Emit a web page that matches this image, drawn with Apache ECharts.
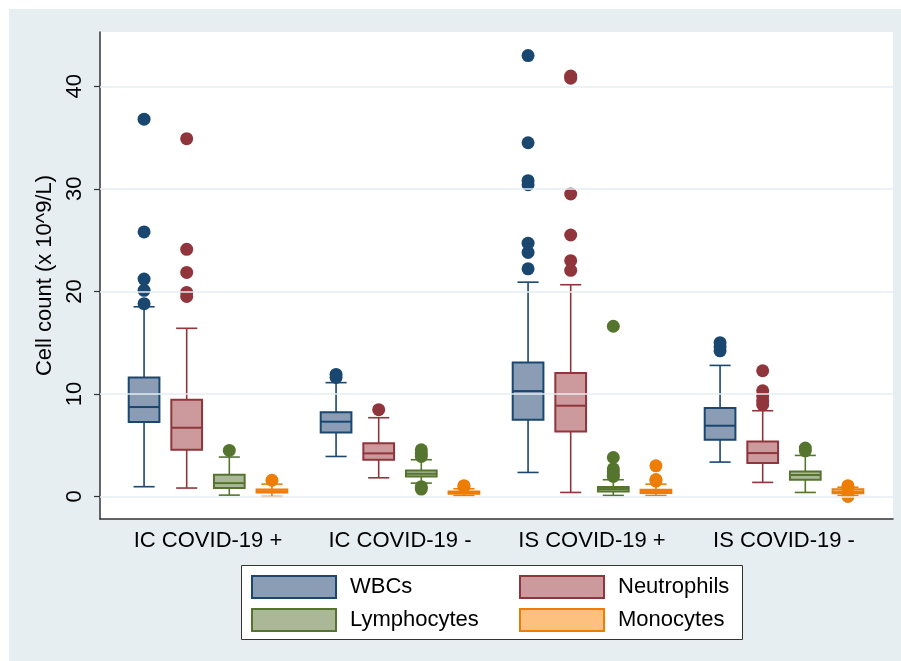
<!DOCTYPE html>
<html>
<head>
<meta charset="utf-8">
<script src="https://cdn.jsdelivr.net/npm/echarts@6/dist/echarts.min.js"></script>
<style>
  html, body { margin: 0; padding: 0; background: #fff; }
  #chart { width: 901px; height: 661px; }
</style>
</head>
<body>
<div id="chart"></div>
<script>
// groups on the x axis
const groups = ['IC COVID-19 +', 'IC COVID-19 -', 'IS COVID-19 +', 'IS COVID-19 -'];
const yTicks = [0, 10, 20, 30, 40];

// box stats per group: [lower whisker, q1, median, q3, upper whisker]
const wbcStats = [[0.95, 7.26, 8.72, 11.6, 18.5], [3.9, 6.24, 7.29, 8.2, 11.1], [2.34, 7.48, 10.28, 13.07, 20.9], [3.35, 5.53, 6.9, 8.62, 12.78]];
const neuStats = [[0.82, 4.56, 6.7, 9.43, 16.4], [1.82, 3.58, 4.2, 5.2, 7.68], [0.39, 6.34, 8.85, 12.04, 20.65], [1.37, 3.26, 4.23, 5.37, 8.36]];
const lymStats = [[0.13, 0.82, 1.3, 2.12, 3.84], [1.3, 1.95, 2.21, 2.54, 3.58], [0.1, 0.49, 0.72, 0.92, 1.63], [0.39, 1.63, 2.09, 2.44, 4.0]];
const monStats = [[0.0, 0.39, 0.5, 0.68, 1.2], [0.08, 0.26, 0.36, 0.49, 0.75], [0.1, 0.33, 0.52, 0.65, 1.2], [0.1, 0.3, 0.45, 0.7, 0.9]];

// outside values per group
const wbcOut = [[36.8, 25.8, 21.2, 20.1, 18.8], [11.9, 11.6], [43.0, 34.5, 30.8, 30.4, 24.7, 23.8, 22.2], [15.0, 14.6, 14.2]];
const neuOut = [[34.9, 24.1, 21.85, 19.9, 19.5], [8.46], [41.0, 40.8, 29.5, 25.5, 23.0, 22.05], [12.26, 10.3, 9.8, 9.3, 8.95]];
const lymOut = [[4.49], [4.55, 4.2, 3.9, 0.95, 0.72], [16.6, 3.8, 2.7, 2.4, 2.1, 1.95], [4.72, 4.45]];
const monOut = [[1.58], [1.05, 0.95], [2.99, 1.65, 1.5], [1.05, 0.85, 0.0]];

const cells = [
  { name: 'WBCs', stats: wbcStats, out: wbcOut, fill: '#8a9db4', stroke: '#1a476f' },
  { name: 'Neutrophils', stats: neuStats, out: neuOut, fill: '#cc9a9d', stroke: '#90353b' },
  { name: 'Lymphocytes', stats: lymStats, out: lymOut, fill: '#aab897', stroke: '#55752f' },
  { name: 'Monocytes', stats: monStats, out: monOut, fill: '#fec07f', stroke: '#ed7d05' }
];
const offsets = [-0.333, -0.111, 0.111, 0.333];
const FONT = "'Liberation Sans', Arial, sans-serif";

function boxRenderer(cell) {
  return function (params, api) {
    const x = api.value(0);
    const lo = api.coord([x, api.value(1)]);
    const q1 = api.coord([x, api.value(2)]);
    const md = api.coord([x, api.value(3)]);
    const q3 = api.coord([x, api.value(4)]);
    const hi = api.coord([x, api.value(5)]);
    const unit = api.size([1, 0])[0];
    const bw = unit * 0.16, cw = unit * 0.11;
    const cx = lo[0];
    const line = (x1, y1, x2, y2, w) => ({
      type: 'line', shape: { x1, y1, x2, y2 },
      style: { stroke: cell.stroke, lineWidth: w }
    });
    return {
      type: 'group',
      children: [
        line(cx, hi[1], cx, q3[1], 1.6),
        line(cx, q1[1], cx, lo[1], 1.6),
        line(cx - cw / 2, hi[1], cx + cw / 2, hi[1], 1.6),
        line(cx - cw / 2, lo[1], cx + cw / 2, lo[1], 1.6),
        {
          type: 'rect',
          shape: { x: cx - bw / 2, y: q3[1], width: bw, height: q1[1] - q3[1] },
          style: { fill: cell.fill, stroke: cell.stroke, lineWidth: 2 }
        },
        line(cx - bw / 2, md[1], cx + bw / 2, md[1], 2)
      ]
    };
  };
}

const series = [{
  type: 'scatter', data: [], z: 1, silent: true,
  markLine: {
    silent: true, symbol: 'none', label: { show: false },
    lineStyle: { color: '#e4ecf0', width: 1.5, type: 'solid' },
    data: yTicks.map(v => ({ yAxis: v }))
  }
}];
cells.forEach((cell, i) => {
  series.push({
    name: cell.name, type: 'custom', z: 3,
    renderItem: boxRenderer(cell),
    encode: { x: 0, y: [1, 2, 3, 4, 5] },
    itemStyle: { color: cell.fill, borderColor: cell.stroke },
    data: cell.stats.map((s, g) => [g + 1 + offsets[i], ...s])
  });
  const pts = [];
  cell.out.forEach((vals, g) => vals.forEach(v => pts.push([g + 1 + offsets[i], v])));
  series.push({
    name: cell.name, type: 'scatter', z: 4, symbolSize: 13,
    itemStyle: { color: cell.stroke, opacity: 1 },
    data: pts
  });
});

const legendItem = c => ({ name: c.name, itemStyle: { color: c.fill, borderColor: c.stroke, borderWidth: 2 } });
const legendBase = {
  orient: 'vertical', top: 570, itemWidth: 84, itemHeight: 22, itemGap: 9,
  icon: 'rect', selectedMode: false,
  textStyle: { fontSize: 22, color: '#000', fontFamily: FONT, padding: [0, 0, 0, 9] }
};

const chart = echarts.init(document.getElementById('chart'));
chart.setOption({
  backgroundColor: '#e6eef1',
  animation: false,
  textStyle: { fontFamily: FONT },
  graphic: [
    { type: 'rect', shape: { x: 0, y: 0, width: 901, height: 9 }, style: { fill: '#fff' }, silent: true },
    { type: 'rect', shape: { x: 0, y: 0, width: 9, height: 661 }, style: { fill: '#fff' }, silent: true },
    { type: 'rect', shape: { x: 241.5, y: 565.5, width: 501, height: 74 }, style: { fill: '#fff', stroke: '#333', lineWidth: 1 }, silent: true, z: 1 }
  ],
  legend: [
    Object.assign({}, legendBase, { left: 246, data: [legendItem(cells[0]), legendItem(cells[2])] }),
    Object.assign({}, legendBase, { left: 514, data: [legendItem(cells[1]), legendItem(cells[3])] })
  ],
  grid: { left: 100, right: 8, top: 32, bottom: 142, show: true, backgroundColor: '#fff', borderWidth: 0 },
  xAxis: {
    type: 'value', min: 0.4375, max: 4.5677,
    axisLine: { show: true, onZero: false, lineStyle: { color: '#333', width: 1.5 } },
    axisTick: { show: false },
    splitLine: { show: false },
    axisLabel: {
      customValues: [1, 2, 3, 4], margin: 11,
      formatter: v => groups[Math.round(v) - 1] || '',
      fontSize: 22, color: '#000', fontFamily: FONT
    }
  },
  yAxis: {
    type: 'value', min: -2.2, max: 45.3,
    name: 'Cell count (x 10^9/L)', nameLocation: 'middle', nameRotate: 90, nameGap: 44,
    nameTextStyle: { fontSize: 22, color: '#000', fontFamily: FONT },
    axisLine: { show: true, onZero: false, lineStyle: { color: '#333', width: 1.5 } },
    axisTick: { show: true, customValues: yTicks, length: 6, lineStyle: { color: '#333', width: 1.2 } },
    splitLine: { show: false },
    axisLabel: { customValues: yTicks, rotate: 90, margin: 14, fontSize: 22, color: '#000', fontFamily: FONT }
  },
  series: series
});
</script>
</body>
</html>
